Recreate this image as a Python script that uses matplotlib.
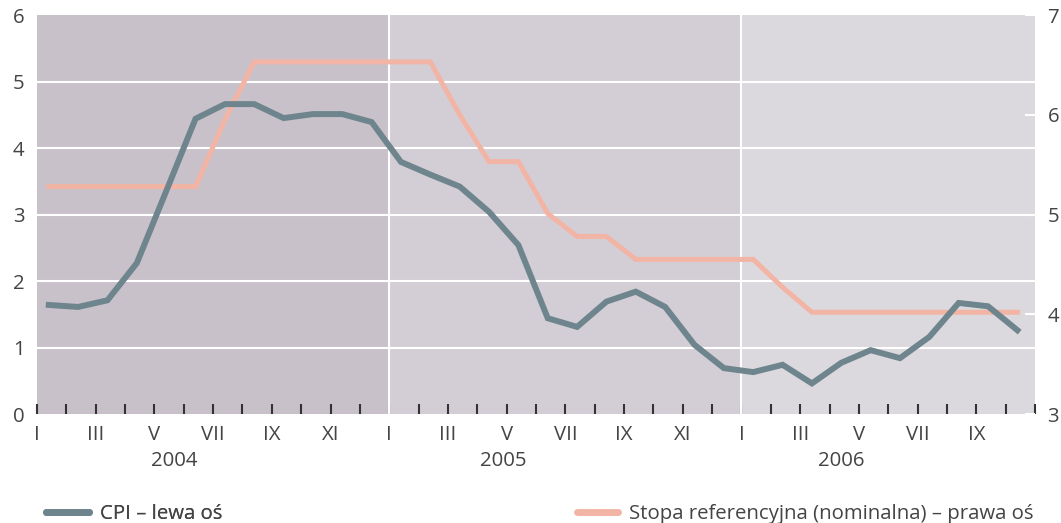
import matplotlib
matplotlib.use('Agg')
import matplotlib.pyplot as plt
from matplotlib.lines import Line2D

# dane miesięczne I.2004 - X.2006
month_names = ['I', 'II', 'III', 'IV', 'V', 'VI', 'VII', 'VIII', 'IX', 'X', 'XI', 'XII']
years = ['2004', '2005', '2006']

cpi = [1.64, 1.61, 1.71, 2.27, 3.35, 4.44, 4.66, 4.66, 4.45, 4.51, 4.51, 4.39,
       3.79, 3.60, 3.42, 3.04, 2.54, 1.44, 1.31, 1.69, 1.84, 1.61, 1.04, 0.69,
       0.63, 0.74, 0.46, 0.77, 0.96, 0.84, 1.16, 1.67, 1.62, 1.26]

stopa = [5.28, 5.28, 5.28, 5.28, 5.28, 5.28, 5.95, 6.53, 6.53, 6.53, 6.53, 6.53,
         6.53, 6.53, 6.00, 5.53, 5.53, 5.01, 4.78, 4.78, 4.55, 4.55, 4.55, 4.55,
         4.55, 4.27, 4.02, 4.02, 4.02, 4.02, 4.02, 4.02, 4.02, 4.02]

cpi_label = 'CPI – lewa oś'
stopa_label = 'Stopa referencyjna (nominalna) – prawa oś'

plt.rcParams['font.family'] = ['Open Sans', 'DejaVu Sans']

c_cpi = '#6f858e'
c_stopa = '#f2b5a5'
c_txt = '#444444'
fs = 14.7

x = [i + 0.4 for i in range(len(cpi))]
n = len(cpi)

fig = plt.figure(figsize=(10.61, 5.23), dpi=100)
ax = fig.add_axes([0.0349, 0.2084, 0.9406, 0.7629])

# tło dla lat
ax.set_facecolor('#dcd9de')
ax.axvspan(0, 12, color='#c9c1ca', lw=0)
ax.axvspan(12, 24, color='#d3ced5', lw=0)
ax.axvline(12, color='white', lw=1.5)
ax.axvline(24, color='white', lw=1.5)
for v in range(1, 6):
    ax.axhline(v, color='white', lw=1.5)

ax.set_xlim(0, n)
ax.set_ylim(0, 6)
ax.set_yticks(range(0, 7))
ax.set_xticks(range(0, n + 1))
ax.set_xticklabels([month_names[i % 12] if i % 2 == 0 and i < n else '' for i in range(n + 1)])
ax.tick_params(axis='x', direction='in', length=7, width=1.5, color='#333333',
               pad=8, labelsize=fs, labelcolor=c_txt)
ax.tick_params(axis='y', length=0, pad=9, labelsize=fs, labelcolor=c_txt)
for s in ax.spines.values():
    s.set_visible(False)

for k, yr in enumerate(years):
    ax.text([4.67, 15.9, 27.4][k], -0.118, yr, transform=ax.get_xaxis_transform(),
            ha='center', va='center', fontsize=fs, color=c_txt)

# prawa oś - stopa
ax2 = ax.twinx()
ax2.plot(x, stopa, color=c_stopa, lw=3.6, solid_joinstyle='miter')
ax2.set_ylim(3, 7)
ax2.set_yticks([3, 4, 5, 6, 7])
ax2.tick_params(axis='y', direction='in', length=7, width=1.5, color='white',
                pad=9, labelsize=fs, labelcolor=c_txt)
for s in ax2.spines.values():
    s.set_visible(False)

# CPI na wierzchu
ax3 = ax.twinx()
ax3.plot(x, cpi, color=c_cpi, lw=4.3, solid_joinstyle='miter')
ax3.set_ylim(0, 6)
ax3.axis('off')

leg1 = fig.legend(handles=[Line2D([], [], color=c_cpi, lw=5, solid_capstyle='round')],
                  labels=[cpi_label],
                  loc='center left', bbox_to_anchor=(46 / 1061, 1 - 514 / 523),
                  frameon=False, fontsize=fs, handlelength=2.1, handletextpad=0.55,
                  borderpad=0, borderaxespad=0, labelcolor=c_txt)
leg2 = fig.legend(handles=[Line2D([], [], color=c_stopa, lw=5, solid_capstyle='round')],
                  labels=[stopa_label],
                  loc='center left', bbox_to_anchor=(577 / 1061, 1 - 514 / 523),
                  frameon=False, fontsize=fs, handlelength=2.0, handletextpad=0.55,
                  borderpad=0, borderaxespad=0, labelcolor=c_txt)
fig.add_artist(leg1)

plt.savefig('out.png', dpi=100)
